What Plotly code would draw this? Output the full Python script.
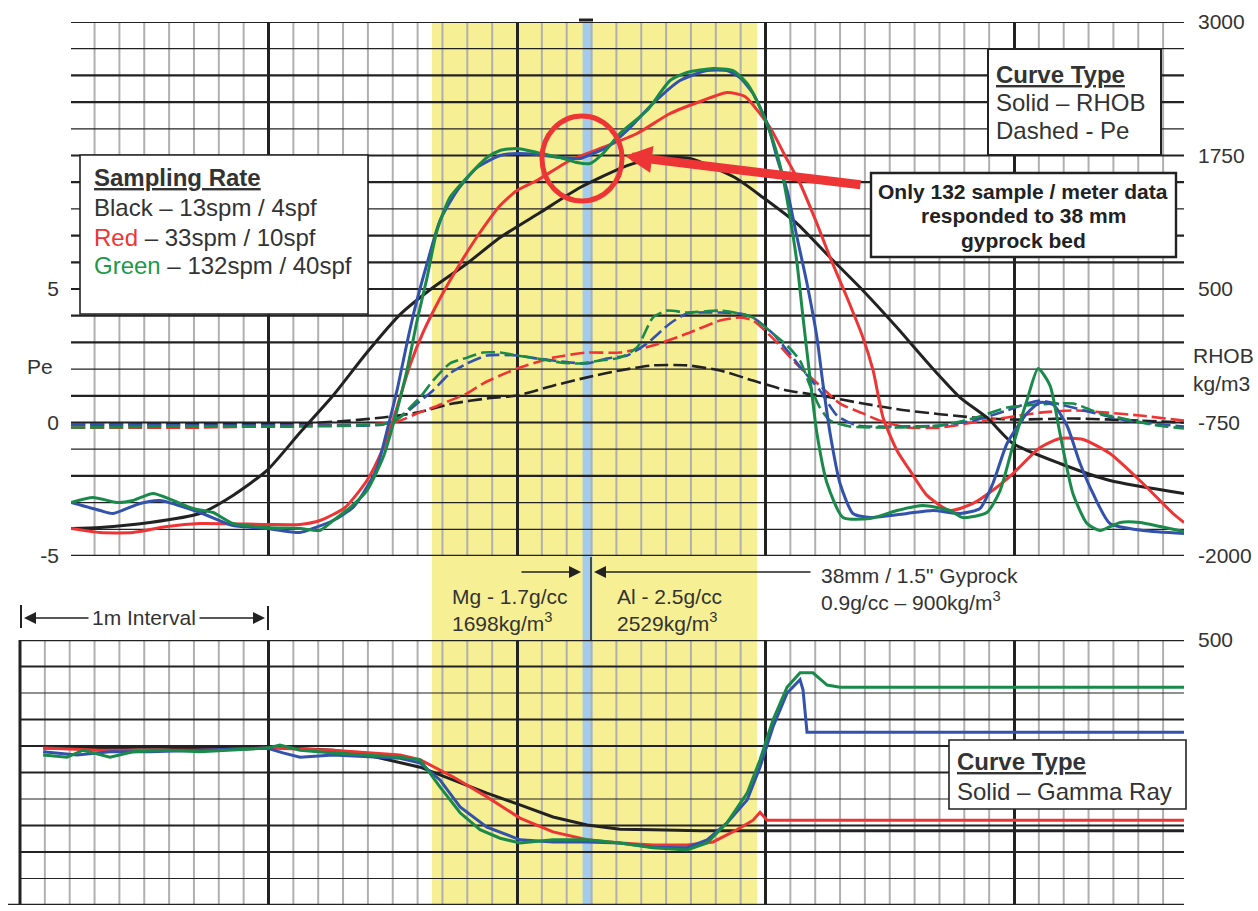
import plotly.graph_objects as go

W, H = 1258, 911
FONT = "Arial, 'Liberation Sans', sans-serif"
TXT = "#333333"

# ---------------- data (depth in m, RHOB kg/m3, Pe, GR) ----------------
rhob_black_depth = [0.205,0.322,0.523,0.724,0.857,0.994,1.127,1.260,1.396,1.529,1.662,1.799,1.932,2.093,2.254,2.443,2.575,2.696,2.877,2.990,3.127,3.260,3.392,3.529,3.662,3.783,3.891,3.996,4.185,4.386,4.684]
rhob_black = [-1742,-1733,-1686,-1602,-1433,-1199,-844,-497,-95,260,514,739,982,1216,1450,1656,1731,1722,1544,1357,1113,795,486,139,-216,-516,-703,-947,-1134,-1293,-1415]

rhob_red_depth = [0.205,0.322,0.455,0.592,0.724,0.994,1.127,1.207,1.308,1.396,1.457,1.497,1.529,1.569,1.622,1.690,1.771,1.851,1.932,2.000,2.080,2.213,2.346,2.483,2.616,2.748,2.845,2.917,3.018,3.078,3.139,3.207,3.260,3.328,3.392,3.433,3.473,3.529,3.581,3.650,3.742,3.835,3.924,3.996,4.105,4.185,4.278,4.386,4.519,4.640,4.684]
rhob_red = [-1742,-1780,-1780,-1724,-1696,-1705,-1705,-1668,-1546,-1293,-1012,-759,-516,-216,93,411,739,1029,1282,1422,1516,1703,1825,1956,2143,2265,2340,2302,2012,1750,1488,1113,795,420,46,-263,-703,-1012,-1199,-1433,-1574,-1508,-1368,-1228,-984,-900,-909,-1040,-1321,-1602,-1686]

rhob_blue_depth = [0.205,0.322,0.374,0.483,0.563,0.724,0.857,0.994,1.127,1.179,1.260,1.340,1.388,1.437,1.477,1.517,1.557,1.590,1.638,1.690,1.759,1.839,1.932,2.000,2.080,2.173,2.254,2.306,2.362,2.443,2.547,2.656,2.765,2.845,2.897,2.950,3.010,3.046,3.087,3.127,3.167,3.207,3.231,3.260,3.300,3.352,3.421,3.569,3.674,3.783,3.863,3.915,3.972,4.052,4.105,4.157,4.213,4.266,4.318,4.386,4.519,4.684]
rhob_blue = [-1499,-1574,-1602,-1508,-1480,-1593,-1715,-1742,-1780,-1742,-1668,-1546,-1387,-1171,-825,-450,-10,327,739,1141,1422,1637,1750,1769,1759,1731,1722,1769,1825,1984,2237,2452,2545,2545,2480,2330,2031,1731,1422,982,551,46,-385,-853,-1321,-1602,-1640,-1602,-1574,-1602,-1555,-1321,-947,-666,-563,-582,-778,-1134,-1415,-1696,-1761,-1789]

rhob_green_depth = [0.205,0.294,0.390,0.455,0.535,0.616,0.696,0.777,0.857,0.994,1.127,1.207,1.260,1.328,1.396,1.461,1.517,1.557,1.598,1.638,1.678,1.730,1.799,1.879,1.932,2.000,2.080,2.173,2.241,2.294,2.346,2.414,2.523,2.616,2.684,2.789,2.869,2.926,2.978,3.030,3.070,3.099,3.127,3.151,3.179,3.207,3.248,3.312,3.421,3.529,3.634,3.742,3.795,3.891,3.944,3.996,4.052,4.097,4.145,4.185,4.237,4.294,4.346,4.427,4.507,4.588,4.684]
rhob_green = [-1499,-1452,-1499,-1480,-1415,-1480,-1555,-1593,-1696,-1733,-1742,-1761,-1668,-1546,-1387,-1078,-638,-263,205,607,1047,1357,1544,1731,1797,1815,1778,1731,1684,1675,1769,1956,2171,2452,2527,2564,2545,2424,2199,1890,1544,1169,739,233,-329,-853,-1321,-1640,-1649,-1574,-1527,-1574,-1640,-1593,-1387,-965,-544,-244,-404,-853,-1415,-1696,-1761,-1686,-1686,-1724,-1771]

pe_black_depth = [0.205,0.724,1.127,1.328,1.461,1.598,1.742,1.879,2.000,2.145,2.282,2.414,2.547,2.684,2.817,2.950,3.087,3.219,3.392,3.569,3.835,3.996,4.237,4.507,4.684]
pe_black = [-0.07,-0.07,-0.04,0.07,0.19,0.37,0.71,0.90,1.01,1.38,1.69,1.95,2.14,2.14,1.95,1.57,1.20,1.01,0.71,0.45,0.19,0.11,0.15,0.07,0.00]

pe_red_depth = [0.205,0.724,1.127,1.461,1.529,1.598,1.662,1.730,1.799,1.863,1.932,2.000,2.145,2.282,2.414,2.547,2.684,2.817,2.897,2.950,3.030,3.127,3.219,3.300,3.392,3.461,3.569,3.702,3.835,3.972,4.105,4.237,4.374,4.507,4.684]
pe_red = [-0.19,-0.19,-0.11,-0.04,0.07,0.34,0.56,0.82,1.09,1.46,1.76,2.02,2.43,2.62,2.62,2.88,3.33,3.82,3.93,3.82,3.15,2.17,1.38,0.71,0.34,0.07,-0.19,-0.19,0.00,0.19,0.37,0.45,0.37,0.26,0.07]

pe_blue_depth = [0.205,0.724,1.127,1.461,1.529,1.598,1.662,1.730,1.799,1.879,2.000,2.080,2.213,2.282,2.362,2.443,2.523,2.616,2.684,2.817,2.897,2.950,3.030,3.087,3.151,3.219,3.288,3.368,3.529,3.702,3.835,3.972,4.052,4.105,4.185,4.318,4.455,4.684]
pe_blue = [-0.07,-0.11,-0.11,-0.07,0.19,0.71,1.20,1.84,2.21,2.51,2.51,2.40,2.25,2.21,2.40,2.51,2.96,3.71,4.08,4.12,4.08,3.93,3.33,2.70,1.95,1.20,0.26,-0.11,-0.15,-0.11,0.07,0.45,0.71,0.82,0.68,0.37,0.07,-0.15]

pe_green_depth = [0.205,0.724,1.127,1.477,1.529,1.569,1.610,1.662,1.730,1.799,1.863,1.932,2.000,2.080,2.173,2.254,2.334,2.414,2.483,2.547,2.604,2.684,2.817,2.897,2.950,3.030,3.087,3.139,3.179,3.219,3.260,3.340,3.529,3.702,3.835,3.972,4.105,4.237,4.346,4.439,4.575,4.684]
pe_green = [-0.19,-0.15,-0.15,-0.04,0.19,0.56,0.94,1.57,2.21,2.43,2.62,2.62,2.51,2.40,2.25,2.21,2.32,2.43,2.81,3.93,4.19,4.12,4.19,4.08,3.93,3.33,2.88,2.32,1.38,0.56,0.07,-0.15,-0.19,-0.11,0.15,0.56,0.68,0.71,0.34,0.15,-0.11,-0.22]

gr_black_depth = [0.093,0.322,0.523,0.724,0.998,1.260,1.396,1.529,1.610,1.742,1.879,2.012,2.145,2.282,2.414,2.547,2.736,4.684]
gr_black = [296,296,298,296,298,292,283,268,260,236,211,189,166,151,143,142,140,140]

gr_red_depth = [0.093,0.322,0.724,0.998,1.260,1.529,1.610,1.742,1.879,2.012,2.145,2.282,2.414,2.547,2.684,2.789,2.885,2.950,2.978,3.006,4.684]
gr_red = [296,292,292,296,292,283,274,242,204,164,138,123,117,113,113,119,142,160,175,160,160]

gr_blue_depth = [0.093,0.229,0.362,0.523,0.724,0.994,1.058,1.127,1.260,1.529,1.610,1.690,1.771,1.879,2.012,2.145,2.282,2.414,2.547,2.684,2.765,2.845,2.926,2.978,3.030,3.087,3.139,3.151,3.167,4.684]
gr_blue = [289,283,289,289,292,296,287,279,283,277,268,236,185,147,123,119,119,117,109,108,123,155,198,260,336,400,425,406,326,326]

gr_green_depth = [0.093,0.189,0.254,0.362,0.455,0.592,0.724,0.994,1.046,1.127,1.260,1.396,1.529,1.610,1.690,1.771,1.851,1.932,2.012,2.145,2.282,2.414,2.547,2.684,2.765,2.845,2.926,2.978,3.030,3.087,3.139,3.191,3.248,3.300,4.684]
gr_green = [283,279,292,279,289,292,289,296,302,292,287,283,279,274,223,174,142,126,117,123,123,117,108,104,117,155,211,274,349,411,438,438,415,411,411]

pe_ticks = [-5, 0, 5]
pe_ticktext = ["-5", "0", "5"]
rhob_ticks = [-2000, -750, 500, 1750, 3000]
rhob_ticktext = ["-2000", "-750", "500", "1750", "3000"]
gr_ticks = [0, 500]
metal_zone = [1.658, 2.966]      # Mg / Al blocks (m)
gyprock_bed = [2.264, 2.303]     # 38 mm gyprock bed (m)

# ---------------- styles ----------------
COL = {"black": "#222222", "red": "#EE3535", "blue": "#3252AC", "green": "#1A8A4A"}
DEPTH_MAX = 4.6841
TOP_DEPTH_MIN = 0.2052

def PX(x):
    return x / W

def PY(y):
    return 1 - y / H

fig = go.Figure()

for name, d, v in [("black", pe_black_depth, pe_black), ("red", pe_red_depth, pe_red),
                   ("blue", pe_blue_depth, pe_blue), ("green", pe_green_depth, pe_green)]:
    fig.add_trace(go.Scatter(x=d, y=v, xaxis="x", yaxis="y", mode="lines",
                             line=dict(color=COL[name], width=2.6, dash="14px,5px",
                                       shape="spline", smoothing=0.6),
                             hoverinfo="skip", showlegend=False))

for name, d, v in [("black", rhob_black_depth, rhob_black), ("red", rhob_red_depth, rhob_red),
                   ("blue", rhob_blue_depth, rhob_blue), ("green", rhob_green_depth, rhob_green)]:
    fig.add_trace(go.Scatter(x=d, y=v, xaxis="x", yaxis="y3", mode="lines",
                             line=dict(color=COL[name], width=3, shape="spline", smoothing=0.6),
                             hoverinfo="skip", showlegend=False))

for name, d, v in [("black", gr_black_depth, gr_black), ("red", gr_red_depth, gr_red),
                   ("blue", gr_blue_depth, gr_blue), ("green", gr_green_depth, gr_green)]:
    fig.add_trace(go.Scatter(x=d, y=v, xaxis="x2", yaxis="y2", mode="lines",
                             line=dict(color=COL[name], width=3),
                             hoverinfo="skip", showlegend=False))

grid_x = dict(showticklabels=False, ticks="", showgrid=True, gridcolor="#222222", gridwidth=3,
              dtick=1, tick0=0, zeroline=False, showline=False, automargin=False)
tickfont = dict(family=FONT, size=21, color=TXT)

fig.update_layout(
    width=W, height=H,
    margin=dict(l=0, r=0, t=0, b=0, autoexpand=False),
    paper_bgcolor="white", plot_bgcolor="rgba(0,0,0,0)",
    font=dict(family=FONT, color=TXT),
    xaxis=dict(domain=[PX(71), PX(1184)], range=[TOP_DEPTH_MIN, DEPTH_MAX], anchor="y", **grid_x),
    yaxis=dict(domain=[PY(556), PY(22)], range=[-5, 15], anchor="x", tickvals=pe_ticks,
               ticktext=pe_ticktext, showgrid=False, zeroline=False, ticks="", tickfont=tickfont,
               ticklabelstandoff=11, automargin=False),
    yaxis3=dict(overlaying="y", side="right", anchor="x", range=[-2000, 3000], tickvals=rhob_ticks,
                ticktext=rhob_ticktext, showgrid=False, zeroline=False, ticks="", tickfont=tickfont,
                ticklabelstandoff=13, automargin=False),
    xaxis2=dict(domain=[PX(20), PX(1184)], range=[0, DEPTH_MAX], anchor="y2", **grid_x),
    yaxis2=dict(domain=[PY(905), PY(640)], range=[0, 500], anchor="x2", side="right", tickvals=gr_ticks,
                showgrid=False, zeroline=False, ticks="", tickfont=tickfont, ticklabelstandoff=13,
                automargin=False),
)

shapes = []
# yellow zone and gyprock bed
shapes.append(dict(type="rect", xref="x2", yref="paper", x0=metal_zone[0], x1=metal_zone[1],
                   y0=PY(905), y1=PY(22), fillcolor="#F6EF93", line=dict(width=0), layer="below"))
shapes.append(dict(type="rect", xref="x2", yref="paper", x0=gyprock_bed[0], x1=gyprock_bed[1],
                   y0=PY(905), y1=PY(22), fillcolor="#A3CBEC", line=dict(width=0), layer="below"))

# minor vertical grid (every 0.1 m)
for k in range(1, 47):
    if k % 10 == 0:
        continue
    d = k / 10
    if d > TOP_DEPTH_MIN:
        shapes.append(dict(type="line", xref="x", yref="paper", x0=d, x1=d, y0=PY(556), y1=PY(22),
                           line=dict(color="#b0b0b0", width=2), layer="below"))
    shapes.append(dict(type="line", xref="x2", yref="paper", x0=d, x1=d, y0=PY(905), y1=PY(640),
                       line=dict(color="#b0b0b0", width=2), layer="below"))

# horizontal grid lines (top panel, Pe units)
top_w = {15: 2.2, 14: 1.2, 13: 2.2, 12: 2.2, 11: 1.2, 10: 2.2, 9: 2.2, 8: 1.2, 7: 2.2, 6: 2.2, 5: 2.2,
         4: 2.2, 3: 2.2, 2: 1.2, 1: 2.2, 0: 2.2, -1: 1.2, -2: 2.2, -3: 1.2, -4: 1.2, -5: 2.4}
for v, w in top_w.items():
    shapes.append(dict(type="line", xref="paper", yref="y", x0=PX(71), x1=PX(1184), y0=v, y1=v,
                       line=dict(color="#222222", width=w), layer="below"))
bot_w = {500: 2.4, 450: 2.2, 400: 1.2, 350: 2.2, 300: 2.2, 250: 2.2, 200: 1.2, 150: 2.2, 100: 2.2, 50: 1.2}
for v, w in bot_w.items():
    shapes.append(dict(type="line", xref="paper", yref="y2", x0=PX(20), x1=PX(1184), y0=v, y1=v,
                       line=dict(color="#222222", width=w), layer="below"))
# bottom baseline and left edge of GR panel
shapes.append(dict(type="line", xref="paper", yref="y2", x0=PX(8), x1=PX(1184), y0=0, y1=0,
                   line=dict(color="#222222", width=2.6)))
shapes.append(dict(type="line", xref="paper", yref="paper", x0=PX(20), x1=PX(20), y0=PY(905), y1=PY(640),
                   line=dict(color="#222222", width=3)))
# small black tick at top of gyprock bed and divider line in gap
shapes.append(dict(type="line", xref="paper", yref="paper", x0=PX(579), x1=PX(593), y0=PY(20), y1=PY(20),
                   line=dict(color="#222222", width=3)))
shapes.append(dict(type="line", xref="paper", yref="paper", x0=PX(591), x1=PX(591), y0=PY(557), y1=PY(640),
                   line=dict(color="#222222", width=1.5)))

# boxes
def box(x0, y0, x1, y1, w=1.6):
    shapes.append(dict(type="rect", xref="paper", yref="paper", x0=PX(x0), x1=PX(x1), y0=PY(y1), y1=PY(y0),
                       fillcolor="white", line=dict(color="#222222", width=w), layer="above"))

box(80, 155, 368, 314)
box(988, 49, 1161, 155, 2)
box(871, 173, 1176, 257, 2.4)
box(949, 740, 1186, 809, 1.6)

# red circle
shapes.append(dict(type="circle", xref="paper", yref="paper", x0=PX(542), x1=PX(622), y0=PY(201), y1=PY(116),
                   line=dict(color="#EE3535", width=5), layer="above"))
# 1m interval end bars
shapes.append(dict(type="line", xref="paper", yref="paper", x0=PX(21), x1=PX(21), y0=PY(628), y1=PY(605),
                   line=dict(color="#222222", width=2)))
shapes.append(dict(type="line", xref="paper", yref="paper", x0=PX(268), x1=PX(268), y0=PY(630), y1=PY(606),
                   line=dict(color="#222222", width=2)))

anns = []

def txt(x, y, s, size=21, xanchor="left", color=TXT):
    anns.append(dict(x=PX(x), y=PY(y), xref="paper", yref="paper", text=s, showarrow=False,
                     xanchor=xanchor, yanchor="middle", font=dict(family=FONT, size=size, color=color)))

def arrow(xt, yt, xs, ys, color="#222222", width=1.5, size=1.6, head=2):
    anns.append(dict(x=PX(xt), y=PY(yt), xref="paper", yref="paper", text="", showarrow=True,
                     ax=xs - xt, ay=ys - yt, axref="pixel", ayref="pixel",
                     arrowhead=head, arrowsize=size, arrowwidth=width, arrowcolor=color))

# Sampling rate legend box
txt(92, 178, "<b><u>Sampling Rate</u></b>", 24)
txt(92, 208, "Black – 13spm / 4spf", 24)
txt(92, 237, "<span style='color:#EE3535'>Red</span> – 33spm / 10spf", 24)
txt(92, 265, "<span style='color:#1A9A4A'>Green</span> – 132spm / 40spf", 24)

# Curve type box (top)
txt(994, 74, "<b><u>Curve Type</u></b>", 24)
txt(994, 102, "Solid – RHOB", 24)
txt(994, 131, "Dashed - Pe", 24)

# callout
txt(1023, 191, "<b>Only 132 sample / meter data</b>", 21, "center", "#222222")
txt(1023, 216, "<b>responded to 38 mm</b>", 21, "center", "#222222")
txt(1023, 241, "<b>gyprock bed</b>", 21, "center", "#222222")
arrow(625, 156, 862, 185, color="#EE3535", width=9, size=0.6, head=2)

# axis titles
txt(40, 366, "Pe", 21, "center")
txt(1191, 356, "RHOB", 21)
txt(1191, 383, "kg/m3", 21)

# gap annotations
txt(450, 596, "Mg - 1.7g/cc", 21)
txt(450, 622, "1698kg/m<sup>3</sup>", 21)
txt(615, 596, "Al - 2.5g/cc", 21)
txt(615, 622, "2529kg/m<sup>3</sup>", 21)
txt(819, 575, "38mm / 1.5\" Gyprock", 21)
txt(819, 601, "0.9g/cc – 900kg/m<sup>3</sup>", 21)
arrow(581, 572, 520, 572)
arrow(594, 572, 812, 572)

# 1m interval
txt(144, 617, "1m Interval", 21, "center")
arrow(24, 618, 90, 618)
arrow(265, 618, 198, 618)

# bottom curve type
txt(955, 761, "<b><u>Curve Type</u></b>", 24)
txt(955, 791, "Solid – Gamma Ray", 24)

fig.update_layout(shapes=shapes, annotations=anns)

fig.write_html("out.html", config={"displayModeBar": False},
               post_script="document.body.style.margin='0px';")
